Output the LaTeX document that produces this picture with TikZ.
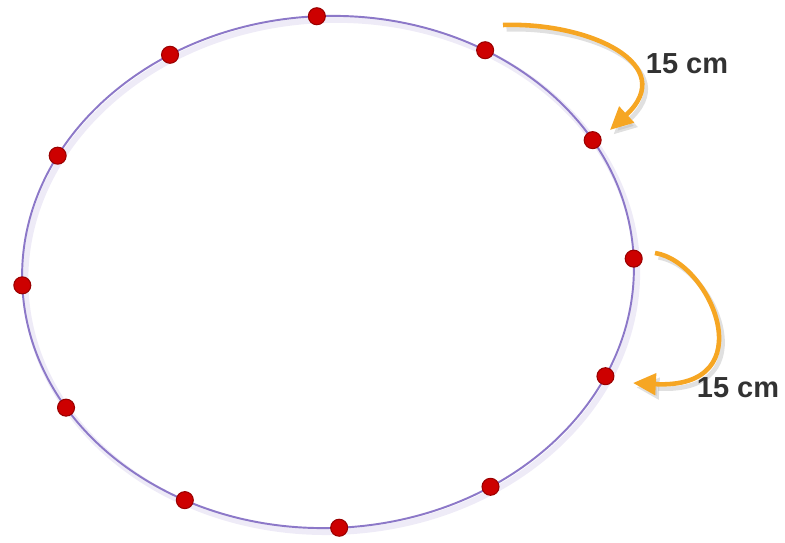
\documentclass[tikz,border=0pt]{standalone}
\usepackage{fontspec}
\setmainfont{Liberation Sans}
\usepackage{xcolor}
\usepackage{tikz}
\usetikzlibrary{arrows.meta}

\definecolor{ringviolet}{RGB}{140,120,200}
\definecolor{dotred}{RGB}{205,0,0}
\definecolor{arroworange}{RGB}{246,166,35}
\definecolor{labelgray}{RGB}{50,50,50}

\begin{document}
\begin{tikzpicture}[x=0.02cm, y=0.02cm,
    ring/.style={draw=ringviolet, line width=1.1pt},
    ringglow/.style={draw=ringviolet!15, line width=3.5pt},
    dot/.style={circle, draw=dotred!75!black, fill=dotred, line width=0.6pt,
                minimum size=0.34cm, inner sep=0pt},
    curvearrow/.style={-{Triangle[length=13pt, width=12pt]}, draw=arroworange, line width=2.6pt},
    arrowshadow/.style={-{Triangle[length=13pt, width=12pt]}, draw=black!30, line width=2.6pt, opacity=0.4},
    lbl/.style={font=\bfseries\fontsize{16.5}{19}\selectfont, text=labelgray}]

\useasboundingbox (0,0) rectangle (785,543);

% ring with the marks
\begin{scope}[shift={(328,271)}, rotate=2.5]
\draw[ringglow] (3,-4) ellipse [x radius=306, y radius=256];
\draw[ring] (0,0) ellipse [x radius=306, y radius=256];
\node[dot] (d1)  at (90:306 and 256) {};
\node[dot] (d2)  at (57:306 and 256) {};
\node[dot] (d3)  at (28:306 and 256) {};
\node[dot] (d4)  at (0:306 and 256) {};
\node[dot] (d5)  at (-27:306 and 256) {};
\node[dot] (d6)  at (-60:306 and 256) {};
\node[dot] (d7)  at (-90:306 and 256) {};
\node[dot] (d8)  at (-120:306 and 256) {};
\node[dot] (d9)  at (-151:306 and 256) {};
\node[dot] (d10) at (180:306 and 256) {};
\node[dot] (d11) at (150:306 and 256) {};
\node[dot] (d12) at (119:306 and 256) {};
\end{scope}

% arrow ends
\coordinate (a1s) at (503,518);
\coordinate (a1e) at (610,413);
\coordinate (a2s) at (655,290);
\coordinate (a2e) at (633,160);

\draw[arrowshadow, transform canvas={shift={(2pt,-2.5pt)}}]
    (a1s) .. controls +(87,3) and +(70,65) .. (a1e);
\draw[arrowshadow, transform canvas={shift={(2pt,-2.5pt)}}]
    (a2s) .. controls +(57,-9) and +(132,-7) .. (a2e);
\draw[curvearrow] (a1s) .. controls +(87,3) and +(70,65) .. (a1e);
\draw[curvearrow] (a2s) .. controls +(57,-9) and +(132,-7) .. (a2e);

\node[lbl] (l1) at (687,479) {15 cm};
\node[lbl] (l2) at (738,155) {15 cm};
\end{tikzpicture}
\end{document}
